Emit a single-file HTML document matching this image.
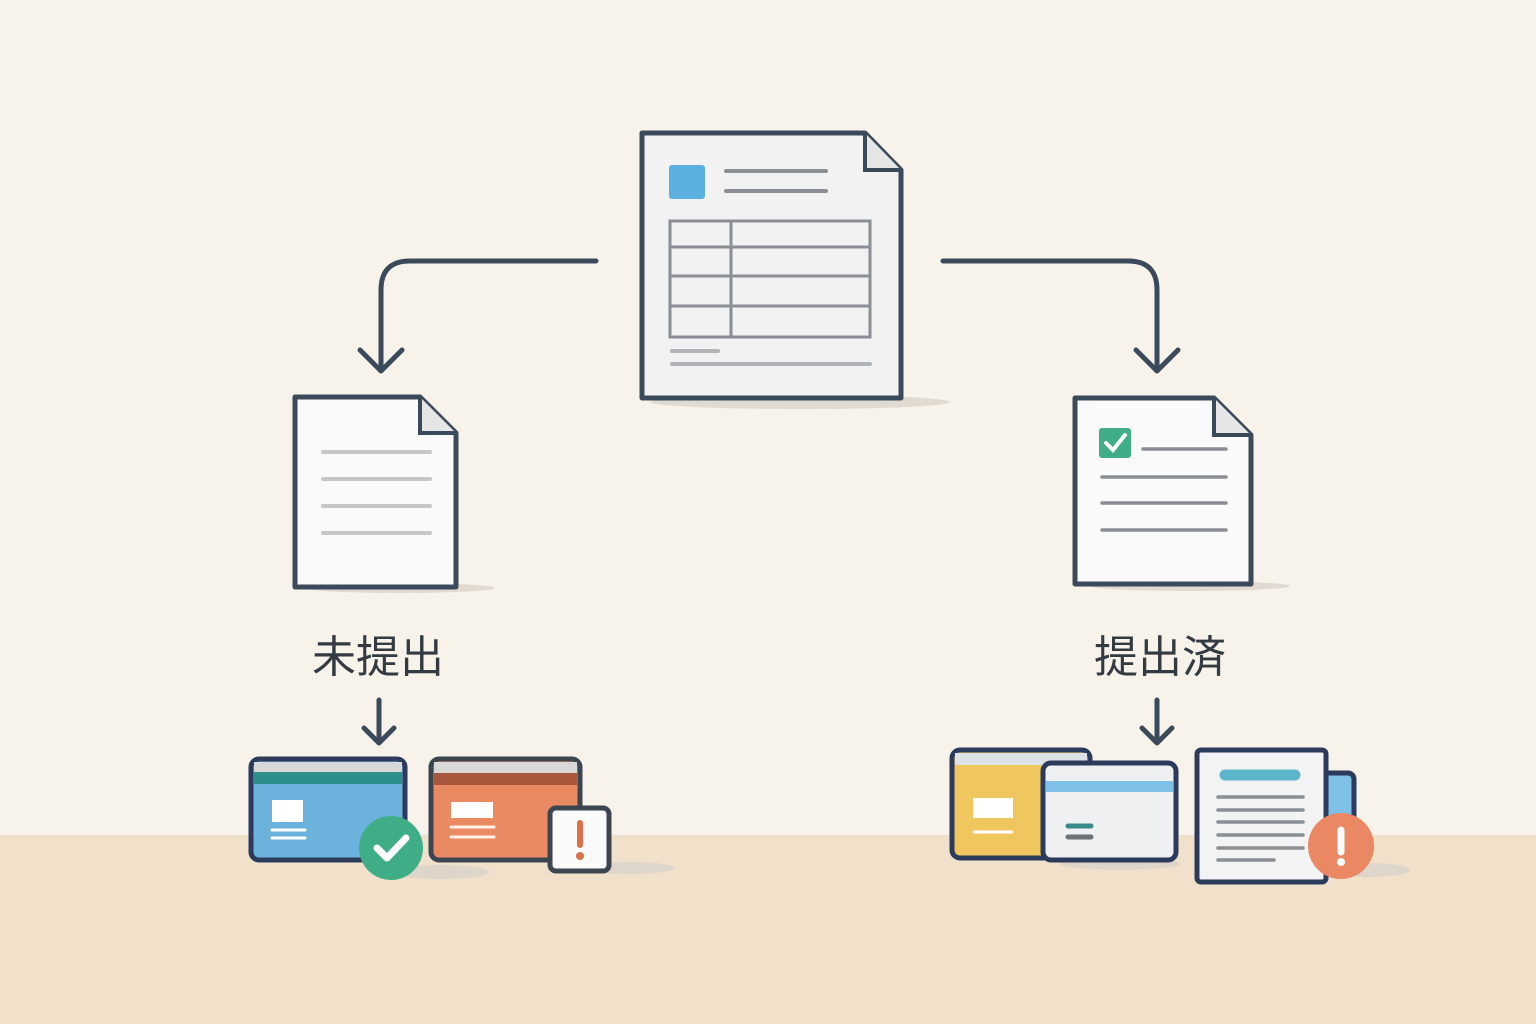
<!DOCTYPE html><html><head><meta charset="utf-8"><style>html,body{margin:0;padding:0}body{width:1536px;height:1024px;overflow:hidden;background:#f8f3ea}</style></head><body>
<svg width="1536" height="1024" viewBox="0 0 1536 1024" xmlns="http://www.w3.org/2000/svg" style="display:block">
<rect width="1536" height="1024" fill="#f8f3ea"/>
<rect y="835" width="1536" height="189" fill="#f1e1cb"/>
<g fill="#d9d3cb" opacity="0.8">
<ellipse cx="800" cy="402" rx="150" ry="7"/><ellipse cx="400" cy="588" rx="95" ry="5"/><ellipse cx="1190" cy="586" rx="100" ry="5"/>
<ellipse cx="440" cy="872" rx="50" ry="7"/><ellipse cx="630" cy="868" rx="45" ry="6"/><ellipse cx="1370" cy="870" rx="40" ry="7"/><ellipse cx="1120" cy="864" rx="60" ry="6"/>
</g>
<g stroke="#3b4a5a" stroke-width="5" fill="none" stroke-linecap="round" stroke-linejoin="round">
<path d="M596 261 H410 Q381 261 381 290 V370"/><path d="M360 350 L381 371 L402 350"/>
<path d="M943 261 H1128 Q1157 261 1157 290 V370"/><path d="M1136 350 L1157 371 L1178 350"/>
<path d="M379 700 V742"/><path d="M364 728 L379 743 L394 728"/>
<path d="M1157 700 V742"/><path d="M1142 728 L1157 743 L1172 728"/>
</g>
<!-- top doc -->
<path d="M642 133 H865 L901 170 V398 H642 Z" fill="#f2f2f2" stroke="#3b4a5a" stroke-width="5" stroke-linejoin="round"/>
<path d="M865 133 V170 H901" fill="#e6e6e6" stroke="#3b4a5a" stroke-width="4"/>
<rect x="669" y="165" width="36" height="34" rx="3" fill="#5bb0e0"/>
<g stroke="#8a8f95" stroke-width="4" stroke-linecap="round"><line x1="726" y1="171" x2="826" y2="171"/><line x1="726" y1="191" x2="826" y2="191"/></g>
<g stroke="#8a8f95" stroke-width="3" fill="none"><rect x="670" y="221" width="200" height="116"/><line x1="670" y1="247" x2="870" y2="247"/><line x1="670" y1="276" x2="870" y2="276"/><line x1="670" y1="306" x2="870" y2="306"/><line x1="731" y1="221" x2="731" y2="337"/></g>
<g stroke="#b0b3b7" stroke-width="4" stroke-linecap="round"><line x1="672" y1="351" x2="718" y2="351"/><line x1="672" y1="364" x2="870" y2="364"/></g>
<!-- left doc -->
<path d="M295 397 H420 L456 433 V587 H295 Z" fill="#fafafa" stroke="#3b4a5a" stroke-width="5" stroke-linejoin="round"/>
<path d="M420 397 V433 H456" fill="#e6e6e6" stroke="#3b4a5a" stroke-width="4"/>
<g stroke="#c4c6c9" stroke-width="4" stroke-linecap="round"><line x1="323" y1="452" x2="430" y2="452"/><line x1="323" y1="479" x2="430" y2="479"/><line x1="323" y1="506" x2="430" y2="506"/><line x1="323" y1="533" x2="430" y2="533"/></g>
<!-- right doc -->
<path d="M1075 398 H1214 L1251 435 V584 H1075 Z" fill="#fafafa" stroke="#3b4a5a" stroke-width="5" stroke-linejoin="round"/>
<path d="M1214 398 V435 H1251" fill="#e6e6e6" stroke="#3b4a5a" stroke-width="4"/>
<rect x="1099" y="428" width="32" height="30" rx="3" fill="#3fae86"/>
<path d="M1106 443 L1113 450 L1125 435" stroke="#fff" stroke-width="4" fill="none" stroke-linecap="round"/>
<g stroke="#8a8f95" stroke-width="3.5" stroke-linecap="round"><line x1="1143" y1="449" x2="1226" y2="449"/><line x1="1102" y1="477" x2="1226" y2="477"/><line x1="1102" y1="503" x2="1226" y2="503"/><line x1="1102" y1="530" x2="1226" y2="530"/></g>
<g font-family="Liberation Sans, Noto Sans CJK JP, sans-serif" font-size="44" fill="#333a42" text-anchor="middle">
<text x="378" y="672">未提出</text><text x="1160" y="672">提出済</text></g>
<!-- bottom left -->
<rect x="251" y="759" width="154" height="101" rx="8" fill="#6bb3dd" stroke="#2c3a5c" stroke-width="5"/>
<rect x="254" y="762" width="148" height="10" fill="#d8d8d8"/><rect x="254" y="772" width="148" height="12" fill="#2e8f8a"/>
<rect x="272" y="800" width="31" height="22" fill="#fff"/>
<g stroke="#fff" stroke-width="3" stroke-linecap="round"><line x1="272" y1="830" x2="305" y2="830"/><line x1="272" y1="838" x2="305" y2="838"/></g>
<circle cx="391" cy="848" r="32" fill="#3fae86"/>
<path d="M377 848 L387 858 L406 838" stroke="#fff" stroke-width="7" fill="none" stroke-linecap="round" stroke-linejoin="round"/>
<rect x="431" y="759" width="149" height="101" rx="8" fill="#e98a62" stroke="#3b4650" stroke-width="5"/>
<rect x="434" y="762" width="143" height="11" fill="#d8d8d8"/><rect x="434" y="773" width="143" height="12" fill="#a8563c"/>
<rect x="451" y="802" width="42" height="16" fill="#fff"/>
<g stroke="#fff3e8" stroke-width="3" stroke-linecap="round"><line x1="451" y1="827" x2="494" y2="827"/><line x1="451" y1="837" x2="494" y2="837"/></g>
<rect x="550" y="808" width="59" height="63" rx="6" fill="#fafafa" stroke="#3b4650" stroke-width="5"/>
<line x1="580" y1="823" x2="580" y2="845" stroke="#d9714a" stroke-width="6" stroke-linecap="round"/><circle cx="580" cy="856" r="4" fill="#d9714a"/>
<!-- bottom right -->
<rect x="952" y="750" width="138" height="108" rx="8" fill="#f0c75e" stroke="#2c3a5c" stroke-width="5"/>
<rect x="955" y="753" width="132" height="12" fill="#dde2e6"/>
<rect x="973" y="798" width="40" height="20" fill="#fff"/>
<line x1="973" y1="832" x2="1013" y2="832" stroke="#fff" stroke-width="3"/>
<rect x="1043" y="763" width="133" height="97" rx="8" fill="#eef0f2" stroke="#2c3a5c" stroke-width="5"/>
<rect x="1046" y="781" width="127" height="11" fill="#7fc0e6"/>
<g stroke-linecap="round" stroke-width="5"><line x1="1068" y1="826" x2="1091" y2="826" stroke="#3b8a88"/><line x1="1068" y1="837" x2="1091" y2="837" stroke="#6b7278"/></g>
<rect x="1318" y="773" width="36" height="67" rx="6" fill="#7fc0e6" stroke="#2c3a5c" stroke-width="5"/>
<rect x="1197" y="750" width="129" height="132" rx="4" fill="#f3f3f3" stroke="#2c3a5c" stroke-width="5"/>
<line x1="1225" y1="775" x2="1295" y2="775" stroke="#5ab6c8" stroke-width="11" stroke-linecap="round"/>
<g stroke="#8a8f95" stroke-width="3.5" stroke-linecap="round"><line x1="1218" y1="797" x2="1303" y2="797"/><line x1="1218" y1="810" x2="1303" y2="810"/><line x1="1218" y1="822" x2="1303" y2="822"/><line x1="1218" y1="835" x2="1303" y2="835"/><line x1="1218" y1="848" x2="1303" y2="848"/><line x1="1218" y1="860" x2="1274" y2="860"/></g>
<circle cx="1341" cy="846" r="33" fill="#e98862"/>
<line x1="1341" y1="830" x2="1341" y2="852" stroke="#fff" stroke-width="7" stroke-linecap="round"/><circle cx="1341" cy="862" r="4" fill="#fff"/>
</svg></body></html>
